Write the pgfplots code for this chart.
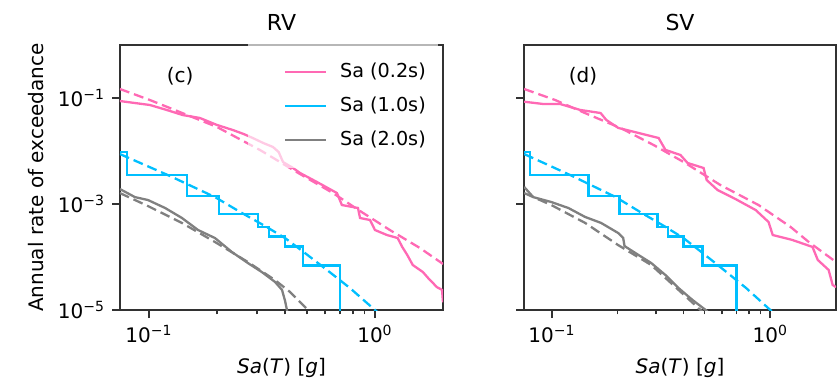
\documentclass[border=0pt]{standalone}
\usepackage{fontspec}
\setmainfont{DejaVu Sans}
\usepackage{pgfplots}
\pgfplotsset{compat=1.18}
\definecolor{cpink}{RGB}{255,105,180}
\definecolor{cblue}{RGB}{0,191,255}
\definecolor{cgray}{RGB}{128,128,128}
\definecolor{axc}{RGB}{50,50,50}
\pgfplotsset{
  myax/.style={
    scale only axis, height=132.5pt,
    xmin=0.0745, xmax=2.0, ymin=1e-5, ymax=1,
    xtick={0.1,1}, xticklabels={10\textsuperscript{−1},10\textsuperscript{0}},
    ytick={1e-5,1e-3,1e-1},
    yminorticks=false,
    tick align=outside, tick pos=left,
    major tick length=4pt, minor tick length=2.2pt,
    axis line style={axc, line width=1.1pt},
    every tick/.style={axc, line width=0.8pt},
    every axis title/.style={at={(0.5,1)}, anchor=base, yshift=7.5pt, font=\fontsize{11pt}{13pt}\selectfont},
    every axis x label/.style={at={(axis description cs:0.5,-0.238)}, anchor=base},
    xlabel={\textit{Sa}(\textit{T}) [\textit{g}]},
    every axis plot/.append style={line width=1.15pt},
    font=\fontsize{10pt}{12pt}\selectfont,
  },
  dsh/.style={dash pattern=on 5pt off 2.5pt},
}
\begin{document}
\begin{tikzpicture}
\path[use as bounding box] (0,0) rectangle (419pt,190.5pt);
% ---------------- RV ----------------
\begin{loglogaxis}[myax, at={(60pt,35.5pt)}, width=161.5pt, title={RV},
  yticklabels={10\textsuperscript{−5},10\textsuperscript{−3},10\textsuperscript{−1}},
  ylabel={Annual rate of exceedance},
  every axis y label/.style={at={(axis description cs:-0.238,0.5)}, rotate=90, anchor=base},
  legend cell align=left,
  legend style={at={(0.985,1)}, anchor=north east, yshift=0.6pt, draw=none, fill=white, fill opacity=0.65, text opacity=1,
    inner xsep=4pt, inner ysep=7pt, row sep=3pt,
    nodes={inner sep=2pt, text height=7.5pt, text depth=2.5pt, font=\fontsize{9.6pt}{11pt}\selectfont}},
  legend image code/.code={\draw[#1] (0pt,0pt) -- (20.5pt,0pt); \path (-14pt,0pt) (25pt,0pt);},
]
\addplot[cpink] coordinates {(0.0744,0.0877) (0.101,0.0738) (0.120,0.0594) (0.141,0.0477) (0.168,0.042) (0.200,0.031) (0.235,0.0249) (0.262,0.0210) (0.288,0.0176) (0.320,0.0142) (0.354,0.0119) (0.375,0.00957) (0.392,0.0062) (0.434,0.00478) (0.466,0.00385) (0.554,0.0026) (0.679,0.00161) (0.714,0.000957) (0.841,0.000841) (0.859,0.000545) (0.951,0.000499) (1.0,0.000323) (1.13,0.00026) (1.26,0.000228) (1.32,0.000155) (1.39,0.000109) (1.47,7.06e-5) (1.63,5.2e-5) (1.72,4.0e-5) (1.88,2.7e-5) (1.98,2.4e-5) (2.0,1.4e-5)};
\addlegendentry{Sa (0.2s)}
\addplot[cblue] coordinates {(0.0744,0.00957) (0.0800,0.00957) (0.0800,0.00352) (0.147,0.00352) (0.147,0.00142) (0.204,0.00142) (0.204,0.000647) (0.304,0.000647) (0.304,0.000368) (0.340,0.000368) (0.340,0.000244) (0.400,0.000244) (0.400,0.000158) (0.480,0.000158) (0.480,6.9e-5) (0.700,6.9e-5) (0.700,1e-6)};
\addlegendentry{Sa (1.0s)}
\addplot[cgray] coordinates {(0.0744,0.00192) (0.0867,0.00135) (0.099,0.00119) (0.118,0.00084) (0.140,0.000545) (0.165,0.000323) (0.196,0.000228) (0.233,0.000124) (0.274,7.7e-5) (0.316,5.2e-5) (0.361,3.4e-5) (0.388,2.4e-5) (0.400,1.5e-5) (0.408,1e-5) (0.412,8e-6)};
\addlegendentry{Sa (2.0s)}
\addplot[cpink, dsh, forget plot] coordinates {(0.0744,0.148) (0.101,0.0916) (0.137,0.0544) (0.200,0.0284) (0.310,0.01045) (0.466,0.00368) (0.652,0.00161) (0.859,0.000738) (1.164,0.000323) (1.58,0.000148) (2.0,7.4e-5)};
\addplot[cblue, dsh, forget plot] coordinates {(0.0744,0.00877) (0.124,0.00337) (0.196,0.00135) (0.258,0.000676) (0.326,0.000385) (0.400,0.000228) (0.490,0.000119) (0.613,5.7e-5) (0.775,2.6e-5) (1.0,1e-5) (1.065,8.05e-6)};
\addplot[cgray, dsh, forget plot] coordinates {(0.0744,0.00161) (0.099,0.000916) (0.140,0.000439) (0.196,0.000192) (0.274,8.05e-5) (0.361,3.68e-5) (0.421,2.19e-5) (0.506,1e-5) (0.526,8.4e-6)};
\node at (rel axis cs:0.186,0.883) {(c)};
\end{loglogaxis}
% ---------------- SV ----------------
\begin{loglogaxis}[myax, at={(262pt,35.5pt)}, width=156pt, title={SV}, yticklabels={}]
\addplot[cpink] coordinates {(0.0746,0.0851) (0.0912,0.0771) (0.109,0.0771) (0.135,0.0594) (0.167,0.0521) (0.1775,0.0385) (0.2015,0.0272) (0.249,0.0219) (0.308,0.0176) (0.331,0.0105) (0.388,0.0084) (0.418,0.00594) (0.495,0.00478) (0.511,0.00284) (0.573,0.00184) (0.693,0.00124) (0.857,0.00077) (0.982,0.000457) (1.026,0.00026) (1.26,0.00021) (1.56,0.000155) (1.65,8.8e-5) (1.85,5.7e-5) (1.93,2.97e-5) (2.0,2.7e-5)};
\addplot[cblue] coordinates {(0.0746,0.00957) (0.0796,0.00957) (0.0796,0.00352) (0.147,0.00352) (0.147,0.00142) (0.204,0.00142) (0.204,0.000647) (0.304,0.000647) (0.304,0.000368) (0.341,0.000368) (0.341,0.000244) (0.400,0.000244) (0.400,0.000158) (0.489,0.000158) (0.489,6.9e-5) (0.700,6.9e-5) (0.700,1e-6)};
\addplot[cgray] coordinates {(0.0746,0.0021) (0.0821,0.00135) (0.0993,0.00109) (0.119,0.00084) (0.142,0.000569) (0.168,0.000439) (0.201,0.000284) (0.212,0.000228) (0.215,0.000161) (0.241,0.000119) (0.285,7.7e-5) (0.331,4.57e-5) (0.380,2.6e-5) (0.440,1.55e-5) (0.506,1e-5) (0.522,8.8e-6)};
\addplot[cpink, dsh] coordinates {(0.0746,0.148) (0.1035,0.0916) (0.145,0.0499) (0.206,0.0272) (0.292,0.0130) (0.408,0.00594) (0.591,0.00228) (0.883,0.000957) (1.24,0.000368) (1.50,0.000192) (2.0,8.05e-5)};
\addplot[cblue, dsh] coordinates {(0.0746,0.00877) (0.124,0.00337) (0.196,0.00135) (0.258,0.000676) (0.326,0.000385) (0.400,0.000228) (0.490,0.000119) (0.613,5.7e-5) (0.775,2.6e-5) (1.0,1e-5) (1.065,8.05e-6)};
\addplot[cgray, dsh] coordinates {(0.0746,0.00161) (0.0993,0.000957) (0.142,0.000439) (0.201,0.000168) (0.285,7.06e-5) (0.368,2.7e-5) (0.479,1e-5) (0.506,8.4e-6)};
\node at (rel axis cs:0.189,0.883) {(d)};
\end{loglogaxis}
\end{tikzpicture}
\end{document}
